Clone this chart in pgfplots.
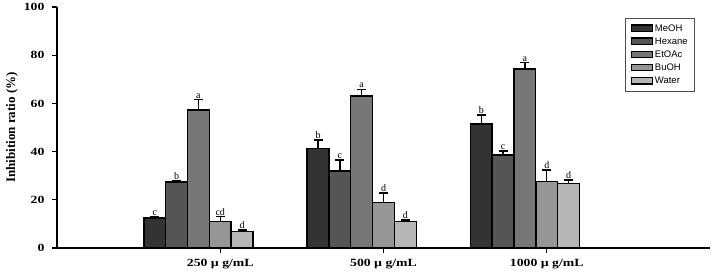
\documentclass[border=0pt]{standalone}
\usepackage{fontspec}
\setmainfont{Liberation Serif}
\newfontfamily\arial{Liberation Sans}
\usepackage{graphicx}
\usepackage{pgfplots}
\pgfplotsset{compat=1.18}

\definecolor{cMeOH}{HTML}{333333}
\definecolor{cHex}{HTML}{555555}
\definecolor{cEt}{HTML}{767676}
\definecolor{cBu}{HTML}{969696}
\definecolor{cWat}{HTML}{B6B6B6}

% wide bold serif used for the tick labels
\newcommand{\wide}[1]{\scalebox{1.25}[1]{#1}}

\pgfplotsset{
  solvent bar/.style={
    ybar, bar width=21.8pt, bar shift=0pt,
    fill=#1, draw=black, line width=1.4pt,
    error bars/.cd, y dir=plus, y explicit,
    error bar style={black, line width=1.4pt},
    error mark options={black, line width=1.4pt, rotate=90, mark size=4.5pt},
  },
  letters/.style={
    draw=none, mark=none, forget plot,
    nodes near coords, point meta=explicit symbolic,
    every node near coord/.append style={anchor=south, inner sep=1pt,
      font=\fontsize{10}{11}\selectfont, text=black},
  },
}

\begin{document}
\begin{tikzpicture}
\begin{axis}[
  width=653pt, height=241pt, scale only axis,
  xmin=0, xmax=4, ymin=0, ymax=100,
  axis lines=left,
  axis line style={-, line width=1.6pt},
  xtick={1,2,3},
  xticklabels={\wide{250 µ g/mL}, \wide{500 µ g/mL}, \wide{1000 µ g/mL}},
  ytick={0,20,...,100},
  yticklabel={\wide{\pgfmathprintnumber{\tick}}},
  tick align=outside, major tick length=5pt,
  tick style={black, line width=1.2pt},
  minor tick num=0,
  /pgf/number format/assume math mode=true,
  ticklabel style={font=\fontsize{11}{13}\selectfont\bfseries},
  xticklabel style={yshift=-3pt},
  yticklabel style={xshift=-4pt},
  ylabel={Inhibition ratio (\%)},
  every axis y label/.style={at={(axis description cs:-0.069,0.5)},
    rotate=90, anchor=center, font=\fontsize{13}{14}\selectfont\bfseries},
  legend style={at={(0.977,0.954)}, anchor=north east,
    draw=black!70, line width=0.6pt, fill=white,
    font=\arial\fontsize{9.5}{11}\selectfont,
    row sep=1pt, inner xsep=5pt, inner ysep=4pt},
  legend cell align=left,
  legend image code/.code={\draw[#1, draw=black, line width=1.3pt] (0pt,-3pt) rectangle (21pt,3.5pt);},
]
% MeOH
\addplot[solvent bar=cMeOH] coordinates {
  (0.599,12.5) +- (0,0.6)
  (1.599,41.2) +- (0,3.7)
  (2.599,51.5) +- (0,3.7)
};
% Hexane
\addplot[solvent bar=cHex] coordinates {
  (0.733,27.4) +- (0,0.7)
  (1.733,32.0) +- (0,4.5)
  (2.733,38.6) +- (0,1.6)
};
% EtOAc
\addplot[solvent bar=cEt] coordinates {
  (0.866,57.3) +- (0,4.4)
  (1.866,63.1) +- (0,2.8)
  (2.866,74.3) +- (0,2.6)
};
% BuOH
\addplot[solvent bar=cBu] coordinates {
  (1.000,11.0) +- (0,2.1)
  (2.000,19.0) +- (0,3.9)
  (3.000,27.5) +- (0,4.8)
};
% Water
\addplot[solvent bar=cWat] coordinates {
  (1.134,6.9) +- (0,0.6)
  (2.134,10.9) +- (0,0.7)
  (3.134,26.8) +- (0,1.4)
};
\legend{MeOH, Hexane, EtOAc, BuOH, Water}

% significance letters above the error bars
\addplot[letters] coordinates {
  (0.599,13.1) [c]  (0.733,28.1) [b]  (0.866,61.7) [a]  (1.000,13.1) [cd] (1.134,7.5) [d]
  (1.599,44.9) [b]  (1.733,36.5) [c]  (1.866,65.9) [a]  (2.000,22.9) [d]  (2.134,11.6) [d]
  (2.599,55.2) [b]  (2.733,40.2) [c]  (2.866,76.9) [a]  (3.000,32.3) [d]  (3.134,28.2) [d]
};
\end{axis}
% page margins around the axis
\path ([xshift=-57pt,yshift=-30pt]current axis.south west)
      ([xshift=5pt,yshift=7pt]current axis.north east);
\end{tikzpicture}
\end{document}
